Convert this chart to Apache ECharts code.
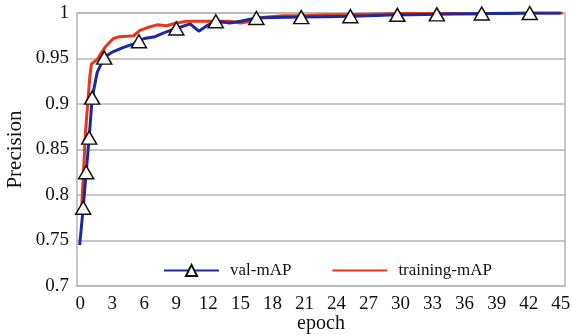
<!DOCTYPE html>
<html>
<head>
<meta charset="utf-8">
<script src="https://cdn.jsdelivr.net/npm/echarts@6/dist/echarts.min.js"></script>
<style>
  html, body { margin: 0; padding: 0; background: #fff; }
  #chart { width: 572px; height: 335px; }
</style>
</head>
<body>
<div id="chart"></div>
<script>
// epoch ticks shown under the x axis
const xTicks = [0, 3, 6, 9, 12, 15, 18, 21, 24, 27, 30, 33, 36, 39, 42, 45];

// val-mAP: [epoch, precision, marked?]
const valPoints = [
  [-0.05, 0.745, 0], [0.28, 0.786, 1], [0.56, 0.825, 1], [0.84, 0.863, 1],
  [1.12, 0.907, 1], [1.6, 0.935, 0], [2.25, 0.951, 1], [3, 0.957, 0],
  [4, 0.962, 0], [5, 0.966, 0], [5.5, 0.969, 1], [6, 0.972, 0],
  [7, 0.974, 0], [8, 0.979, 0], [9, 0.983, 1], [10.3, 0.988, 0],
  [11.1, 0.980, 0], [12, 0.987, 0], [12.7, 0.991, 1], [14, 0.989, 0],
  [15, 0.991, 0], [16.5, 0.9945, 1], [18, 0.995, 0], [20.7, 0.9955, 1],
  [23, 0.996, 0], [25.3, 0.9965, 1], [27, 0.997, 0], [29.7, 0.998, 1],
  [31, 0.998, 0], [33.4, 0.9985, 1], [35, 0.999, 0], [37.6, 0.9995, 1],
  [40, 0.9995, 0], [42.1, 1.0, 1], [45, 1.0, 0]
];

// training-mAP: [epoch, precision]
const trainPoints = [
  [0.15, 0.789], [0.5, 0.87], [0.9, 0.93], [1.05, 0.944], [1.6, 0.949],
  [2.3, 0.962], [3.1, 0.972], [3.7, 0.974], [5.0, 0.975], [5.6, 0.981],
  [6.3, 0.984], [7.2, 0.987], [8.1, 0.986], [9, 0.989], [10, 0.991],
  [12, 0.991], [14, 0.991], [15, 0.989], [16, 0.991], [17, 0.995],
  [19, 0.997], [21, 0.997], [23, 0.998], [25, 0.998], [28, 0.999],
  [30, 0.9995], [35, 0.9995], [37, 0.999], [40, 1.0], [45.2, 1.0]
];

const font = "'Liberation Serif', 'Times New Roman', serif";
const chart = echarts.init(document.getElementById('chart'));

const valData = valPoints.map(p => p[2]
  ? { value: [p[0], p[1]] }
  : { value: [p[0], p[1]], symbol: 'none' });

chart.setOption({
  animation: false,
  grid: {
    left: 77, right: 7, top: 13, bottom: 49,
    outerBoundsMode: 'none', containLabel: false,
    show: true, borderColor: '#b4b4b4', borderWidth: 1.5
  },
  legend: {
    left: 158, top: 257,
    itemWidth: 55, itemHeight: 14, itemGap: 40,
    textStyle: { fontFamily: font, fontSize: 17, color: '#111', padding: [0, 0, 0, 6] },
    data: [
      'val-mAP',
      { name: 'training-mAP', itemStyle: { color: 'transparent', borderWidth: 0 } }
    ]
  },
  xAxis: {
    type: 'value', min: -0.3, max: 45.4,
    name: 'epoch', nameLocation: 'middle', nameGap: 28, nameMoveOverlap: false,
    nameTextStyle: { fontFamily: font, fontSize: 20, color: '#111' },
    axisLine: { show: false },
    axisTick: { show: false },
    splitLine: { show: false },
    axisLabel: {
      customValues: xTicks,
      fontFamily: font, fontSize: 19, color: '#111', margin: 9
    }
  },
  yAxis: {
    type: 'value', min: 0.7, max: 1, interval: 0.05,
    name: 'Precision', nameLocation: 'middle', nameGap: 51, nameMoveOverlap: false,
    nameTextStyle: { fontFamily: font, fontSize: 21, color: '#111' },
    axisLine: { show: false },
    axisTick: { show: false },
    splitLine: { lineStyle: { color: '#b4b4b4', width: 1.5 } },
    axisLabel: { fontFamily: font, fontSize: 19, color: '#111', margin: 8 }
  },
  series: [
    {
      name: 'training-mAP', type: 'line', z: 2,
      symbol: 'none',
      lineStyle: { color: '#e8361c', width: 3 },
      itemStyle: { color: '#e8361c' },
      data: trainPoints
    },
    {
      name: 'val-mAP', type: 'line', z: 3,
      symbol: 'triangle', symbolSize: [15, 13], showAllSymbol: true,
      lineStyle: { color: '#1c2a9c', width: 3 },
      itemStyle: { color: '#fff', borderColor: '#111', borderWidth: 1.5 },
      data: valData
    }
  ]
});
</script>
</body>
</html>
